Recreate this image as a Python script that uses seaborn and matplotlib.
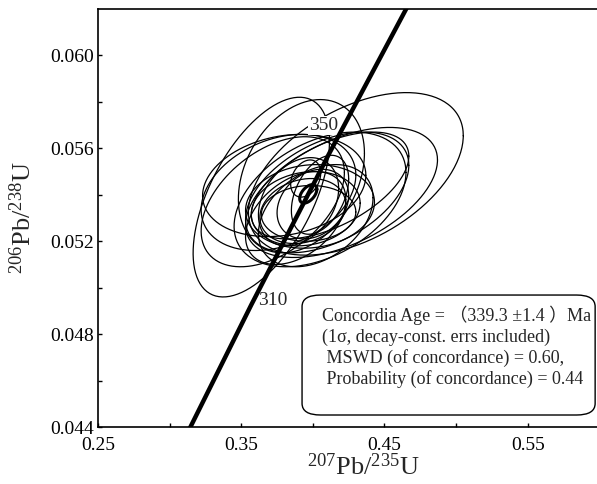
import numpy as np
import pandas as pd
import matplotlib
matplotlib.use("Agg")
import matplotlib.pyplot as plt
import seaborn as sns
from matplotlib.patches import FancyBboxPatch

# concordia curve, read at a few ages (Ma)
conc_age = [270, 310, 350, 390]
conc_207 = [0.3046, 0.3570, 0.4116, 0.4683]
conc_206 = [0.04277, 0.04926, 0.05580, 0.06237]
age_labels = ["310", "350"]

# analysis ellipses: centre, half-extent in x and y, correlation
ell_cx = [0.364, 0.430, 0.420, 0.410, 0.405, 0.412, 0.380, 0.376, 0.372, 0.392,
          0.398, 0.395, 0.393, 0.400, 0.397, 0.390, 0.402, 0.395, 0.405, 0.388]
ell_cy = [0.0539, 0.0549, 0.0541, 0.0541, 0.0538, 0.0544, 0.0544, 0.0541, 0.0537, 0.0548,
          0.0535, 0.0534, 0.0533, 0.0536, 0.0532, 0.0537, 0.0531, 0.0547, 0.0540, 0.0530]
ell_ax = [0.0476, 0.0750, 0.0670, 0.0570, 0.0600, 0.0550, 0.0570, 0.0540, 0.0500, 0.0440,
          0.0450, 0.0380, 0.0300, 0.0250, 0.0330, 0.0280, 0.0400, 0.0105, 0.0200, 0.0350]
ell_ay = [0.0043, 0.0035, 0.0028, 0.0026, 0.0029, 0.0023, 0.0022, 0.0025, 0.0028, 0.0033,
          0.0018, 0.0016, 0.0014, 0.0015, 0.0012, 0.0019, 0.0022, 0.0008, 0.0017, 0.0020]
ell_rho = [0.56, 0.47, 0.50, 0.45, 0.40, 0.55, 0.20, 0.30, 0.45, 0.30,
           0.10, 0.15, 0.20, 0.25, 0.05, 0.30, 0.35, 0.30, 0.40, 0.40]

# concordia age ellipse
age_cx, age_cy, age_ax, age_ay, age_rho = 0.3968, 0.05404, 0.006, 0.0004, 0.5

box_lines = [
    "Concordia Age = （339.3 ±1.4 ）Ma",
    "(1σ, decay-const. errs included)",
    " MSWD (of concordance) = 0.60,",
    " Probability (of concordance) = 0.44",
]

sns.set_theme(style="ticks")
plt.rcParams['font.family'] = ['Liberation Serif', 'Noto Sans CJK SC', 'DejaVu Sans']
plt.rcParams['mathtext.fontset'] = 'custom'
plt.rcParams['mathtext.rm'] = 'Liberation Serif'


def ellipse_xy(cx, cy, ax_, ay_, rho, n=200):
    t = np.linspace(0, 2 * np.pi, n)
    x = cx + ax_ * np.cos(t)
    y = cy + ay_ * (rho * np.cos(t) + np.sqrt(1 - rho ** 2) * np.sin(t))
    return x, y


rows = []
for i in range(len(ell_cx)):
    x, y = ellipse_xy(ell_cx[i], ell_cy[i], ell_ax[i], ell_ay[i], ell_rho[i])
    rows.append(pd.DataFrame({'x': x, 'y': y, 'id': i}))
ell_df = pd.concat(rows, ignore_index=True)

fig = plt.figure(figsize=(5.97, 4.84), dpi=100)
ax = fig.add_axes([98 / 597, 57 / 484, 530 / 597, 418 / 484])

sns.lineplot(data=ell_df, x='x', y='y', units='id', estimator=None, sort=False,
             color='black', lw=0.9, ax=ax)

ax_x, ax_y = ellipse_xy(age_cx, age_cy, age_ax, age_ay, age_rho)
ax.plot(ax_x, ax_y, color='black', lw=2.2)

label_box = dict(boxstyle='square,pad=0.05', fc='white', ec='none')
ax.annotate(age_labels[0], (conc_207[1], conc_206[1]), xytext=(5, 3),
            textcoords='offset points', fontsize=14, ha='left', va='center',
            bbox=label_box, zorder=3)
ax.annotate(age_labels[1], (conc_207[2], conc_206[2]), xytext=(6, 20),
            textcoords='offset points', fontsize=14, ha='right', va='center',
            bbox=label_box, zorder=3)

sns.lineplot(x=conc_207, y=conc_206, sort=False, color='black', lw=3.2, ax=ax,
             zorder=4)

ax.set_xlim(0.25, 0.62)
ax.set_ylim(0.044, 0.062)
ax.set_xticks([0.25, 0.35, 0.45, 0.55])
ax.set_xticks([0.30, 0.40, 0.50], minor=True)
ax.set_yticks([0.044, 0.048, 0.052, 0.056, 0.060])
ax.set_yticks([0.046, 0.050, 0.054, 0.058], minor=True)
ax.set_xticklabels(['0.25', '0.35', '0.45', '0.55'])
ax.set_yticklabels(['0.044', '0.048', '0.052', '0.056', '0.060'])
ax.tick_params(which='both', direction='in', length=3, width=1, colors='black',
               labelsize=14)
ax.tick_params(axis='x', pad=7)
ax.tick_params(axis='y', pad=3)

for s in ['left', 'top', 'bottom']:
    ax.spines[s].set_linewidth(1.2)
    ax.spines[s].set_color('black')
ax.spines['right'].set_visible(False)

ax.set_xlabel(r'$\mathregular{^{207}}$Pb/$\mathregular{^{235}}$U', fontsize=19)
ax.set_ylabel(r'$\mathregular{^{206}}$Pb/$\mathregular{^{238}}$U', fontsize=19)
ax.xaxis.set_label_coords(0.5, -0.062)
ax.yaxis.set_label_coords(-0.118, 0.5)

box = FancyBboxPatch((0.385, 0.0287), 0.553, 0.287,
                     boxstyle='round,pad=0,rounding_size=0.035',
                     transform=ax.transAxes, fc='white', ec='black', lw=1.0,
                     zorder=5, mutation_aspect=418 / 530)
ax.add_patch(box)
ax.text(0.4226, 0.2895, "\n".join(box_lines), transform=ax.transAxes,
        fontsize=13, ha='left', va='top', linespacing=1.22, zorder=6)

fig.savefig("out.png", dpi=100)
